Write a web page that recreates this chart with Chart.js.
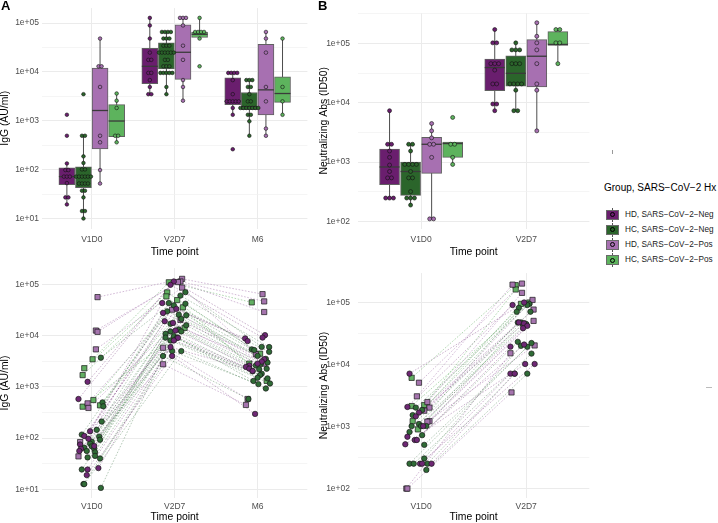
<!DOCTYPE html>
<html><head><meta charset="utf-8">
<script src="https://cdn.jsdelivr.net/npm/chart.js@4.4.1/dist/chart.umd.min.js"></script>
<style>
body{margin:0;background:#fff;width:718px;height:523px;overflow:hidden;position:relative;font-family:"Liberation Sans",Arial,Helvetica,sans-serif}
.pc{position:absolute}
.pl{position:absolute;font-weight:bold;font-size:13px;line-height:13px;color:#000}
.abs{position:absolute}
</style></head><body>
<div class="pc" style="left:0;top:0"><canvas id="cA1" width="312" height="262" style="width:312px;height:262px"></canvas></div>
<div class="pc" style="left:316px;top:0"><canvas id="cB1" width="278" height="262" style="width:278px;height:262px"></canvas></div>
<div class="pc" style="left:0;top:260px"><canvas id="cA2" width="312" height="263" style="width:312px;height:263px"></canvas></div>
<div class="pc" style="left:316px;top:260px"><canvas id="cB2" width="278" height="263" style="width:278px;height:263px"></canvas></div>
<div class="pl" style="left:1px;top:-1px">A</div>
<div class="pl" style="left:318px;top:-1px">B</div>
<div id="legend"></div>
<div class="abs" style="left:612px;top:150px;width:1px;height:4px;background:#999"></div>
<div class="abs" style="left:706px;top:387px;width:6px;height:1px;background:#bbb"></div>
<script>
// ---------- categories ----------
const timeA = ['V1D0', 'V2D7', 'M6'];
const timeB = ['V1D0', 'V2D7'];
const groupNames = ['HD, SARS\u2212CoV\u22122\u2212Neg', 'HC, SARS\u2212CoV\u22122\u2212Neg', 'HD, SARS\u2212CoV\u22122\u2212Pos', 'HC, SARS\u2212CoV\u22122\u2212Pos'];
const legendTitle = 'Group, SARS\u2212CoV\u22122 Hx';

// ---------- panel A (top): IgG box stats [group][time] ----------
const igg_lo  = [[19.4, 3508, 1327], [10, 3508, 494], [52, 2580, 494], [363, 48300, 1327]];
const igg_q1  = [[49, 5750, 2150], [43, 11500, 1700], [267, 7030, 1327], [472, 50700, 2390]];
const igg_med = [[72, 13060, 2500], [72, 25000, 1950], [1625, 25300, 4300], [990, 59000, 3620]];
const igg_q3  = [[109, 30400, 7590], [114, 39600, 3790], [12050, 92500, 36600], [2150, 65900, 7940]];
const igg_hi  = [[134, 128000, 9570], [494, 65900, 6820], [48300, 128000, 65900], [3620, 128000, 48300]];
// dots [group][time]
const igg_dots = [
  [[1330, 494, 134, 98, 98, 72, 72, 72, 53, 27, 27, 19.4],
   [128000, 89600, 48300, 24900, 17700, 17700, 9570, 9570, 6820, 4930, 3508, 3508],
   [9570, 9570, 9570, 9570, 6820, 3508, 2500, 2500, 2500, 2500, 2500, 1833, 1327, 262]],
  [[3508, 494, 494, 187, 137, 101, 101, 72, 72, 72, 72, 72, 72, 52, 52, 52, 52, 37, 37, 27, 14.2, 14.2, 10],
   [65900, 65900, 65900, 65900, 48300, 48300, 48300, 34500, 34500, 34500, 24900, 24900, 24900, 24900, 24900, 24900, 17700, 17700, 13060, 13060, 13060, 9570, 9570, 9570, 9570, 9570, 4930, 3508],
   [6820, 6820, 6820, 4930, 4930, 3508, 2500, 2500, 1833, 1833, 1833, 1833, 1833, 1833, 1833, 1327, 1327, 977, 494]],
  [[48300, 13060, 13060, 4930, 494, 363, 98, 52],
   [128000, 128000, 128000, 89600, 34500, 17700, 6820, 4930, 2580],
   [65900, 48300, 24900, 4930, 2500, 693, 494]],
  [[3620, 2580, 1833, 494, 494, 363],
   [128000, 65900, 65900, 65900, 65900, 48300, 13060],
   [48300, 4930, 2500, 1327]]
];

// ---------- panel B (top): neutralizing Abs box stats ----------
const nab_lo  = [[247, 7350], [188, 7350], [110, 3360], [912, 45700]];
const nab_q1  = [[417, 15960], [274, 19150], [644, 18600], [1200, 93000]];
const nab_med = [[826, 39300], [693, 31400], [1995, 61000], [2050, 96600]];
const nab_q3  = [[1655, 54800], [995, 62200], [2620, 116000], [2175, 159000]];
const nab_hi  = [[7350, 172000], [1995, 102600], [4470, 224000], [2175, 172000]];
const nab_dots = [
  [[7350, 1995, 1995, 1535, 1200, 891, 693, 541, 541, 247, 247, 247],
   [172000, 102600, 102600, 45700, 45700, 45700, 35600, 20800, 20800, 9530, 9530, 7350]],
  [[1995, 1995, 1535, 912, 912, 912, 912, 693, 541, 541, 318, 247, 247, 247, 188],
   [102600, 78000, 78000, 78000, 45700, 45700, 45700, 20800, 20800, 20800, 20800, 16300, 7350, 7350]],
  [[4470, 3360, 2560, 1995, 1995, 1200, 110, 110],
   [224000, 132500, 102600, 78000, 45700, 20800, 16300, 3360]],
  [[5660, 1995, 1995, 1200, 912],
   [172000, 172000, 102600, 102600, 45700]]
];

// ---------- panel A (bottom): per-subject IgG [time][subject], jitter in category units ----------
const iggV_HDneg = [
  [1250, 578, 136, 110, 97, 75, 70, 62, 56, 26, 24.4, 19],
  [113000, 97300, 42900, 33000, 27500, 19000, 17600, 12500, 9000, 8000, 5950, 3980],
  [10160, 9100, 8770, 7780, 3440, 3100, 2830, 2600, 2440, 2260, 2040, 296]];
const iggJ_HDneg = [
  [-0.05, -0.16, -0.02, -0.09, -0.04, -0.14, 0.03, -0.13, -0.15, 0.08, -0.05, -0.06],
  [-0.01, -0.05, -0.15, 0.02, -0.14, -0.12, -0.02, 0.01, 0.04, -0.01, -0.05, -0.03],
  [0.09, 0.06, -0.15, -0.12, 0.08, 0.05, 0.00, -0.10, -0.14, -0.10, -0.06, -0.03]];
const iggV_HCneg = [
  [3690, 497, 417, 210, 145, 117, 107, 93, 85, 78, 69, 65, 62, 56, 53, 45, 42, 40, 24.4, 12.7, 12.7, 10.7],
  [70000, 60000, 42900, 41700, 38700, 29600, 25500, 24800, 21000, 17000, 15850, 13100, 12000, 12000, 10800, 9700, 9100, 9100, 8000, 4970, 4970, 3980],
  [6000, 5950, 5370, 5200, 4800, 4000, 3500, 2970, 2800, 2600, 2250, 2200, 2000, 1800, 1690, 1500, 1460, 1300, 1160, 1128, 927, 578]];
const iggJ_HCneg = [
  [0.11, 0.13, 0.14, 0.12, 0.06, -0.12, 0.09, 0.10, 0.00, -0.02, 0.00, -0.09, 0.03, -0.06, 0.04, 0.04, -0.05, 0.10, -0.12, -0.10, -0.09, 0.11],
  [0.13, 0.07, -0.07, 0.13, -0.01, -0.09, 0.05, 0.14, 0.08, -0.05, 0.14, 0.05, -0.05, 0.08, -0.11, -0.01, -0.11, 0.03, -0.05, -0.03, 0.08, -0.14],
  [0.05, 0.14, -0.07, -0.04, 0.14, 0.00, 0.10, 0.12, 0.04, -0.02, 0.11, 0.02, -0.06, 0.05, 0.03, 0.00, 0.12, -0.05, 0.15, 0.01, 0.10, -0.11]];
const iggV_HDpos = [
  [56000, 12500, 11800, 5370, 475, 387, 83.6, 44],
  [127000, 113000, 110000, 86000, 31900, 20100, 5770, 2750],
  [64000, 46200, 28700, 4300, 2830, null, 578, 443]];
const iggJ_HDpos = [
  [0.07, 0.05, 0.07, 0.05, -0.05, -0.04, -0.14, -0.16],
  [0.09, 0.07, 0.04, 0.09, -0.03, 0.07, -0.14, -0.14],
  [0.06, 0.08, 0.08, -0.02, 0.08, 0, -0.12, -0.14]];
const iggV_HCpos = [
  [3440, 2300, 1690, 552, 435, 410],
  [109000, 69000, 57800, 49000, 35400, 14100],
  [44200, 4420, 2830, 1306, null, null]];
const iggJ_HCpos = [
  [0.01, -0.09, -0.11, 0.02, 0.10, -0.11],
  [-0.07, -0.09, -0.10, 0.03, 0.10, 0.12],
  [-0.07, 0.03, -0.10, 0.11, 0, 0]];

// ---------- panel B (bottom): per-subject neutralizing Abs ----------
const nabV_HDneg = [
  [7130, 2070, 1680, 1460, 1016, 684, 607, 607, 518, 252, 252, 252],
  [100000, 91000, 47700, 46000, 42000, 38500, 21000, 19400, 10200, 10200, 7130, 7130]];
const nabJ_HDneg = [
  [-0.11, -0.13, -0.02, -0.05, 0.02, -0.13, -0.06, -0.04, -0.15, -0.01, 0.01, 0.10],
  [-0.02, -0.13, -0.07, -0.02, 0.01, -0.03, -0.02, -0.15, -0.01, 0.08, -0.15, -0.11]];
const nabV_HCneg = [
  [2020, 1850, 1530, 1100, 1016, 1016, 1016, 818, 726, 507, 306, 252, 252, 252, 200],
  [95000, 91000, 82000, 71000, 71000, 47700, 47700, 45000, 23200, 22200, 20000, 19300, 15000, 7130, 7130]];
const nabJ_HCneg = [
  [-0.05, 0.01, -0.08, -0.02, -0.09, 0.00, 0.05, -0.11, 0.01, 0.03, 0.03, -0.11, -0.07, 0.06, 0.05],
  [0.03, 0.01, -0.07, -0.09, 0.04, -0.08, -0.05, 0.00, -0.08, 0.05, -0.05, 0.01, 0.05, -0.11, 0.01]];
const nabV_HDpos = [
  [5090, 3070, 2480, 2020, 1800, 1220, 1200, 100, 100],
  [202000, 194000, 143000, 110000, 77000, 50500, 20300, 15200, 3550]];
const nabJ_HDpos = [
  [-0.02, -0.04, 0.06, 0.08, 0.03, 0.08, 0.06, -0.14, -0.13],
  [-0.04, -0.13, -0.04, 0.06, 0.07, 0.07, 0.08, -0.15, -0.14]];
const nabV_HCpos = [
  [6100, 2220, 2140, 1220, 900],
  [190000, 162000, 100000, 95000, 46000]];
const nabJ_HCpos = [
  [-0.09, 0.03, -0.09, -0.08, -0.03],
  [-0.10, -0.10, 0.03, -0.05, -0.03]];

// ---------- styles ----------
const FF = '"Liberation Sans", Arial, Helvetica, sans-serif';
const GROUP_OFF = [-0.3, -0.1, 0.1, 0.3];
const BOX_FILL = ['#6A1E6E', '#2B652B', '#A770B1', '#5DB35D'];
const PT_FILL = ['#6E2774', '#2F6B36', '#A574AE', '#62AF62'];
const LINE_COL = ['rgba(110,40,116,0.5)', 'rgba(47,107,54,0.5)', 'rgba(165,116,174,0.7)', 'rgba(98,175,98,0.7)'];

Chart.defaults.font.family = FF;
Chart.defaults.animation = false;
Chart.defaults.events = [];
Chart.defaults.plugins.legend.display = false;
Chart.defaults.plugins.tooltip.enabled = false;

function xAxis(cats, h, tickPad, titlePadB) {
  return {
    type: 'linear', min: -0.6, max: cats.length - 0.4, offset: false,
    afterBuildTicks: s => { s.ticks = cats.map((c, i) => ({ value: i })); },
    afterFit: s => { s.height = h; },
    ticks: { callback: (v, i) => cats[i], color: '#4D4D4D', font: { size: 8.5, family: FF }, padding: tickPad, autoSkip: false, maxRotation: 0 },
    grid: { color: '#EBEBEB', lineWidth: 1, drawTicks: false, offset: false },
    border: { display: false },
    title: { display: true, text: 'Time point', color: '#000', font: { size: 10.4, family: FF, lineHeight: 1.2 }, padding: { top: 0, bottom: titlePadB } }
  };
}
function yAxis(lo, hi, title, w, tickPad, titlePadT) {
  const isMajor = v => Math.abs(Math.log10(v) - Math.round(Math.log10(v))) < 1e-6;
  return {
    type: 'logarithmic', min: lo, max: hi,
    afterBuildTicks: s => {
      const t = [];
      for (let e = Math.ceil(Math.log10(lo) * 2) / 2; e <= Math.log10(hi) + 1e-9; e += 0.5) t.push({ value: Math.pow(10, e) });
      s.ticks = t;
    },
    afterFit: s => { s.width = w; },
    ticks: {
      callback: v => isMajor(v) ? '1e+' + String(Math.round(Math.log10(v))).padStart(2, '0') : '',
      color: '#4D4D4D', font: { size: 8.5, family: FF }, padding: tickPad, autoSkip: false
    },
    grid: {
      color: c => isMajor(c.tick.value) ? '#EBEBEB' : '#F1F1F1',
      lineWidth: c => isMajor(c.tick.value) ? 1 : 0.7, drawTicks: false
    },
    border: { display: false },
    title: { display: true, text: title, color: '#000', font: { size: 10.4, family: FF, lineHeight: 1 }, padding: { top: titlePadT, bottom: 0 } }
  };
}

// whiskers and medians of the boxes, drawn with the chart's own scales
const boxParts = {
  id: 'boxParts',
  beforeDatasetsDraw(chart) {
    const ctx = chart.ctx, y = chart.scales.y;
    chart.data.datasets.forEach((ds, di) => {
      if (ds.type !== 'bar') return;
      chart.getDatasetMeta(di).data.forEach((el, t) => {
        ctx.save();
        ctx.strokeStyle = '#4D4D4D'; ctx.lineWidth = 1;
        ctx.beginPath();
        ctx.moveTo(el.x, y.getPixelForValue(ds.whiskerLo[t]));
        ctx.lineTo(el.x, y.getPixelForValue(ds.whiskerHi[t]));
        ctx.stroke(); ctx.restore();
      });
    });
  },
  afterDatasetDraw(chart, args) {
    const ds = chart.data.datasets[args.index];
    if (ds.type !== 'bar') return;
    const ctx = chart.ctx, y = chart.scales.y;
    args.meta.data.forEach((el, t) => {
      const yy = y.getPixelForValue(ds.median[t]);
      ctx.save(); ctx.strokeStyle = '#3A3A3A'; ctx.lineWidth = 1.3;
      ctx.beginPath(); ctx.moveTo(el.x - el.width / 2, yy); ctx.lineTo(el.x + el.width / 2, yy); ctx.stroke();
      ctx.restore();
    });
  }
};

function dotData(vals, center, dx) {
  const counts = new Map();
  vals.forEach(v => counts.set(v, (counts.get(v) || 0) + 1));
  const out = [];
  counts.forEach((c, v) => { for (let i = 0; i < c; i++) out.push({ x: center + (i - (c - 1) / 2) * dx, y: v }); });
  return out;
}

function boxChart(id, cats, st, dots, ax) {
  const datasets = [];
  for (let g = 0; g < 4; g++) {
    datasets.push({
      type: 'bar', data: cats.map((c, t) => ({ x: t + GROUP_OFF[g], y: [st.q1[g][t], st.q3[g][t]] })),
      backgroundColor: BOX_FILL[g], borderColor: '#606060', borderWidth: 1, borderSkipped: false,
      grouped: false, barPercentage: 1, categoryPercentage: 1, maxBarThickness: ax.boxW, order: 2,
      whiskerLo: st.lo[g], whiskerHi: st.hi[g], median: st.med[g]
    });
  }
  for (let g = 0; g < 4; g++) {
    const pts = [];
    cats.forEach((c, t) => pts.push(...dotData(dots[g][t], t + GROUP_OFF[g], ax.dx)));
    datasets.push({ type: 'scatter', data: pts, pointRadius: ax.dotR, backgroundColor: BOX_FILL[g], borderColor: '#111', borderWidth: 0.6, order: 0 });
  }
  new Chart(document.getElementById(id), {
    type: 'bar', data: { datasets },
    options: {
      responsive: false, maintainAspectRatio: false,
      layout: { padding: ax.pad },
      scales: { x: xAxis(cats, ax.xh, ax.tickPadX, ax.titlePadB), y: yAxis(ax.lo, ax.hi, ax.title, ax.yw, ax.tickPadY, ax.titlePadT) }
    },
    plugins: [boxParts]
  });
}

function lineChart(id, cats, V, J, ax) {
  const datasets = [];
  for (let g = 0; g < 4; g++) {
    const pts = [];
    cats.forEach((c, t) => V[g][t].forEach((v, i) => { if (v != null) pts.push({ x: t + J[g][t][i], y: v }); }));
    datasets.push({
      type: 'scatter', data: pts, pointStyle: g >= 2 ? 'rect' : 'circle', pointRadius: g >= 2 ? 3.7 : 2.7,
      backgroundColor: PT_FILL[g], borderColor: '#1A1A1A', borderWidth: 0.7, order: 0
    });
  }
  for (let g = 0; g < 4; g++) {
    V[g][0].forEach((_, i) => {
      datasets.push({
        type: 'scatter', showLine: true, spanGaps: false,
        data: cats.map((c, t) => ({ x: t + J[g][t][i], y: V[g][t][i] })),
        pointRadius: 0, borderColor: LINE_COL[g], borderWidth: 0.7, borderDash: [1.6, 1.6], order: 1
      });
    });
  }
  new Chart(document.getElementById(id), {
    type: 'scatter', data: { datasets },
    options: {
      responsive: false, maintainAspectRatio: false,
      layout: { padding: ax.pad },
      scales: { x: xAxis(cats, ax.xh, ax.tickPadX, ax.titlePadB), y: yAxis(ax.lo, ax.hi, ax.title, ax.yw, ax.tickPadY, ax.titlePadT) }
    }
  });
}

boxChart('cA1', timeA, { lo: igg_lo, q1: igg_q1, med: igg_med, q3: igg_q3, hi: igg_hi }, igg_dots, {
  pad: { left: 0, top: 4, right: 4, bottom: 0 }, xh: 33.5, yw: 42, lo: Math.pow(10, 0.795), hi: Math.pow(10, 5.3075),
  title: 'IgG (AU/ml)', tickPadX: 6, tickPadY: 3, titlePadB: 3.7, titlePadT: 0.3, boxW: 16, dx: 0.036, dotR: 1.8
});
boxChart('cB1', timeB, { lo: nab_lo, q1: nab_q1, med: nab_med, q3: nab_q3, hi: nab_hi }, nab_dots, {
  pad: { left: 0, top: 4, right: 4, bottom: 0 }, xh: 33.5, yw: 42, lo: Math.pow(10, 1.879), hi: Math.pow(10, 5.513),
  title: 'Neutralizing Abs (ID50)', tickPadX: 6, tickPadY: 8, titlePadB: 3.7, titlePadT: 2.8, boxW: 20, dx: 0.037, dotR: 2.0
});
lineChart('cA2', timeA, [iggV_HDneg, iggV_HCneg, iggV_HDpos, iggV_HCpos], [iggJ_HDneg, iggJ_HCneg, iggJ_HDpos, iggJ_HCpos], {
  pad: { left: 0, top: 6.5, right: 4, bottom: 0 }, xh: 25, yw: 42, lo: Math.pow(10, 0.832), hi: Math.pow(10, 5.314),
  title: 'IgG (AU/ml)', tickPadX: 3.5, tickPadY: 3, titlePadB: 0, titlePadT: 0.3
});
lineChart('cB2', timeB, [nabV_HDneg, nabV_HCneg, nabV_HDpos, nabV_HCpos], [nabJ_HDneg, nabJ_HCneg, nabJ_HDpos, nabJ_HCpos], {
  pad: { left: 0, top: 6.5, right: 4, bottom: 0 }, xh: 25, yw: 42, lo: Math.pow(10, 1.848), hi: Math.pow(10, 5.474),
  title: 'Neutralizing Abs (ID50)', tickPadX: 3.5, tickPadY: 8, titlePadB: 0, titlePadT: 2.8
});

// ---------- legend ----------
(function () {
  const L = document.getElementById('legend');
  const t = document.createElement('div');
  t.className = 'abs';
  t.style.cssText = 'left:604px;top:181px;font-size:10px;line-height:13px;color:#000;white-space:nowrap';
  t.textContent = legendTitle;
  L.appendChild(t);
  groupNames.forEach((n, g) => {
    const cy = 214.5 + g * 15.2;
    const wl = document.createElement('div');
    wl.className = 'abs';
    wl.style.cssText = `left:612px;top:${cy - 7}px;width:1px;height:14px;background:#555`;
    const bx = document.createElement('div');
    bx.className = 'abs';
    bx.style.cssText = `left:606px;top:${cy - 5}px;width:13px;height:10px;box-sizing:border-box;border:1px solid #6A6A6A;background:${BOX_FILL[g]}`;
    const ci = document.createElement('div');
    ci.className = 'abs';
    ci.style.cssText = `left:${612.5 - 2.6}px;top:${cy - 2.6}px;width:5.2px;height:5.2px;box-sizing:border-box;border:0.8px solid #000;border-radius:50%;background:${BOX_FILL[g]}`;
    const tx = document.createElement('div');
    tx.className = 'abs';
    tx.style.cssText = `left:625px;top:${cy - 5}px;font-size:8.2px;line-height:10px;color:#1A1A1A;white-space:nowrap`;
    tx.textContent = n;
    L.appendChild(wl); L.appendChild(bx); L.appendChild(ci); L.appendChild(tx);
  });
})();
</script>
</body></html>
